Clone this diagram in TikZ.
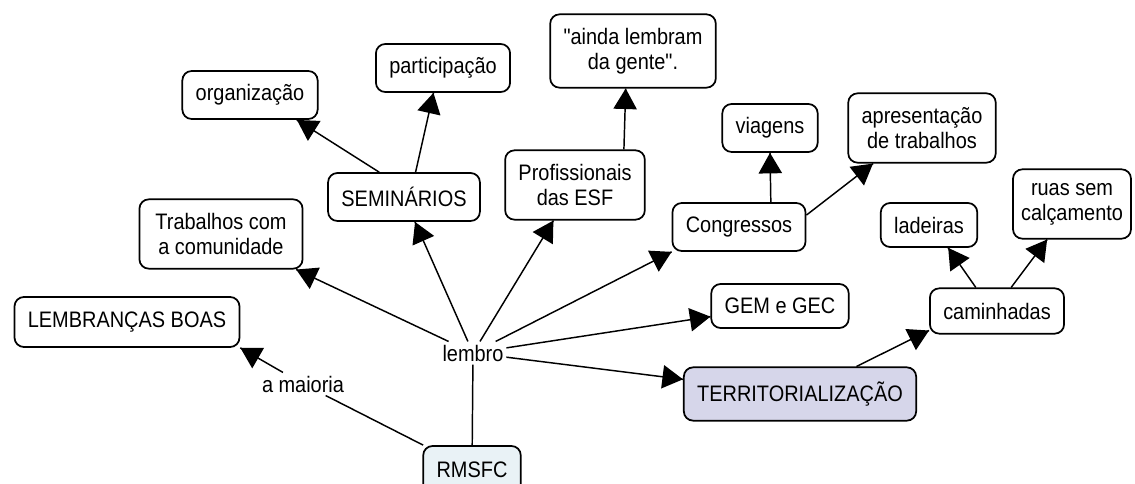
\documentclass[tikz,border=0pt]{standalone}
\usepackage{fontspec}
\setmainfont{Liberation Sans}[Ligatures = TeXOff, FakeStretch = 0.89]
\usetikzlibrary{arrows}
\usetikzlibrary{decorations.markings}
\definecolor{terrfill}{RGB}{214,214,234}
\definecolor{rmsfill}{RGB}{233,242,246}
\tikzset{link/.style = {line width = 1.1pt,
                        decoration={markings,
                                    mark=at position 1 with {\arrow[scale=2]{triangle 60}}},
                        postaction={decorate}}}
\tikzset{concept/.style = {draw, line width = 1.3pt, rounded corners = 7pt, align = center,
                           inner xsep = 10pt, minimum height = 36pt,
                           font = \fontsize{16.8}{18.75}\selectfont}}
\tikzset{twoline/.style = {concept, minimum height = 52pt}}
\tikzset{phrase/.style = {inner xsep = 2pt, inner ysep = 2.3pt,
                          font = \fontsize{16.8}{18.75}\selectfont}}

\begin{document}
\begin{tikzpicture}[x = 0.75pt, y = -0.75pt]
    \useasboundingbox (0, 0) rectangle (1135, 484);
    \node [concept] (org) at (250, 95) {organização};
    \node [concept] (part) at (443, 68) {participação};
    \node [twoline, minimum height = 55pt] (ainda) at (633, 51) {"ainda lembram\\da gente".};
    \node [concept] (viag) at (770, 128) {viagens};
    \node [twoline] (apres) at (922, 128) {apresentação\\de trabalhos};
    \node [concept] (sem) at (404, 197) {SEMINÁRIOS};
    \node [twoline] (prof) at (575, 185) {Profissionais\\das ESF};
    \node [concept] (cong) at (739, 227) {Congressos};
    \node [twoline, inner xsep = 12pt] (trab) at (221, 234) {Trabalhos com\\a comunidade};
    \node [concept, minimum height = 33pt] (lad) at (929, 225) {ladeiras};
    \node [twoline, inner xsep = 6pt] (ruas) at (1072, 204) {ruas sem\\calçamento};
    \node [concept, minimum height = 37.5pt] (boas) at (127, 322) {LEMBRANÇAS BOAS};
    \node [concept, minimum height = 33pt] (gem) at (780, 306) {GEM e GEC};
    \node [concept, minimum height = 34pt] (camin) at (997, 311) {caminhadas};
    \node [concept, minimum height = 40pt, fill = terrfill] (terr) at (800, 394) {TERRITORIALIZAÇÃO};
    \node [concept, fill = rmsfill] (rmsfc) at (472, 470) {RMSFC};
    \node [phrase] (lembro) at (473, 353) {lembro};
    \node [phrase] (maioria) at (303, 384) {a maioria};
    % RMSFC and its phrases
    \draw [line width = 1.1pt] (rmsfc) -- (lembro);
    \draw [line width = 1.1pt] (rmsfc) -- (maioria);
    \draw [link] (maioria) -- (boas.south east);
    \draw [link] (lembro) -- (trab);
    \draw [link] (lembro) -- (sem);
    \draw [link] (lembro) -- (prof);
    \draw [link] (lembro) -- (cong.south west);
    \draw [link] (lembro) -- (gem);
    \draw [link] (lembro) -- (terr);
    % second level
    \draw [link] (sem.135) -- (org.332);
    \draw [link] (sem.65) -- (part.249);
    \draw [link] (prof.36) -- (ainda.259);
    \draw [link] (cong.38) -- (viag.south);
    \draw [link] (cong.10) -- (apres.216);
    \draw [link] (terr.26) -- (camin.196);
    \draw [link] (camin.132) -- (lad.310);
    \draw [link] (camin.59) -- (ruas.235);
\end{tikzpicture}
\end{document}
